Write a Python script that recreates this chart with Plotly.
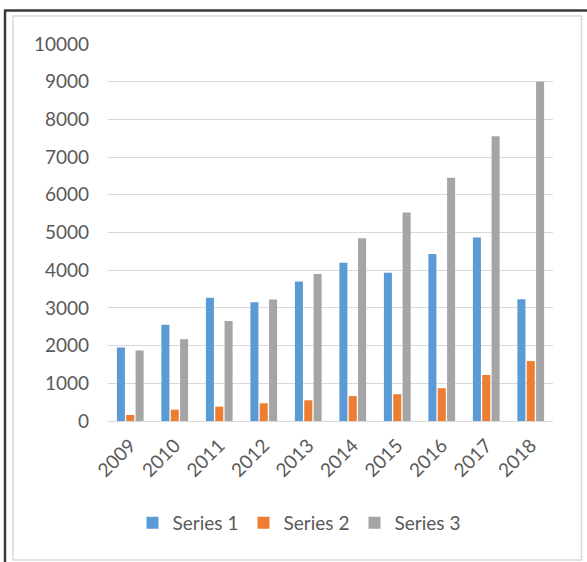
import plotly.graph_objects as go

years = ["2009", "2010", "2011", "2012", "2013", "2014", "2015", "2016", "2017", "2018"]
series1 = [1950, 2550, 3270, 3150, 3700, 4200, 3930, 4430, 4870, 3230]
series2 = [160, 300, 380, 470, 550, 660, 710, 870, 1220, 1590]
series3 = [1870, 2170, 2650, 3220, 3900, 4850, 5530, 6450, 7550, 9000]
names = ["Series 1", "Series 2", "Series 3"]
colors = ["#5B9BD5", "#ED7D31", "#A5A5A5"]

W, H = 587, 562
ML, MR, MT, MB = 108, 34, 44, 141
PW, PH = W - ML - MR, H - MT - MB


def px(x):
    return (x - ML) / PW


def py(y):
    return (H - MB - y) / PH


fig = go.Figure()
for n, vals, c in zip(names, [series1, series2, series3], colors):
    fig.add_trace(go.Bar(x=years, y=vals, name=n, marker=dict(color=c, line=dict(width=0))))

FAM = "Lato, Liberation Sans, sans-serif"

fig.update_layout(
    width=W, height=H,
    margin=dict(l=ML, r=MR, t=MT, b=MB, pad=0),
    paper_bgcolor="white", plot_bgcolor="white",
    barmode="group", bargap=0.37, bargroupgap=0.14,
    font=dict(family=FAM, size=18, color="#595959"),
    showlegend=True,
    legend=dict(orientation="h", x=px(299), xanchor="center", y=py(523), yanchor="middle",
                font=dict(family=FAM, size=19, color="#595959"),
                bgcolor="rgba(0,0,0,0)", entrywidth=66, itemclick=False),
    xaxis=dict(type="category", tickangle=-45, showgrid=False, showline=True,
               linecolor="#D9D9D9", linewidth=1, ticks="", ticklabelstandoff=5,
               tickfont=dict(family=FAM, size=19, color="#595959")),
    yaxis=dict(range=[0, 10000], dtick=1000, tickformat="d", showgrid=True, gridcolor="#D9D9D9",
               gridwidth=1, zeroline=True, zerolinecolor="#D9D9D9", zerolinewidth=1,
               showline=False, ticks="", ticklabelstandoff=18,
               tickfont=dict(family=FAM, size=19, color="#595959")),
    shapes=[
        dict(type="rect", xref="paper", yref="paper", x0=px(13), x1=px(581.5), y0=py(560), y1=py(16),
             line=dict(color="#D9D9D9", width=1.5), fillcolor="rgba(0,0,0,0)", layer="below"),
        dict(type="line", xref="paper", yref="paper", x0=px(5), x1=px(5), y0=py(10.5), y1=py(570),
             line=dict(color="#3A3A3A", width=2.5)),
        dict(type="line", xref="paper", yref="paper", x0=px(4), x1=px(595), y0=py(10.5), y1=py(10.5),
             line=dict(color="#3A3A3A", width=2.5)),
    ],
)

fig.write_html("out.html")
